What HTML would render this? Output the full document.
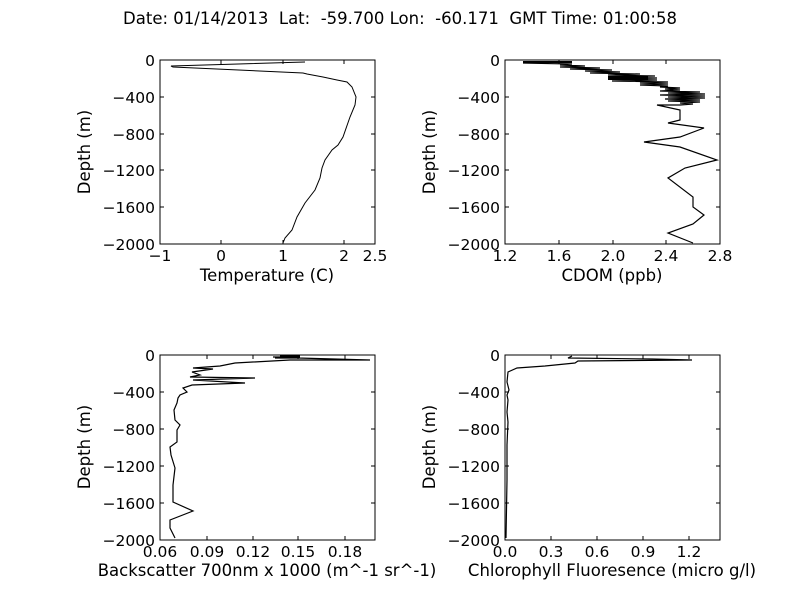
<!DOCTYPE html>
<html><head><meta charset="utf-8"><style>
html,body{margin:0;padding:0;background:#fff;}
svg{display:block;font-family:"DejaVu Sans","Liberation Sans",sans-serif;font-size:15.5px;}
.l{font-size:16.5px;}
</style></head><body>
<svg width="800" height="600" viewBox="0 0 800 600" xmlns="http://www.w3.org/2000/svg">
<rect width="800" height="600" fill="#fff"/>
<text x="400" y="24" text-anchor="middle" class="l" style="white-space:pre" xml:space="preserve">Date: 01/14/2013  Lat:  -59.700 Lon:  -60.171  GMT Time: 01:00:58</text>

<!-- Plot 1 -->
<g fill="none" stroke="#000" stroke-width="1">
<rect x="160" y="60" width="215" height="184"/>
<path d="M160,97h4M160,134h4M160,170h4M160,207h4M375,97h-4M375,134h-4M375,170h-4M375,207h-4M221,244v-4M283,244v-4M344,244v-4M221,60v4M283,60v4M344,60v4"/>
<polyline points="305,62 171,66 173,67 303,73 307,74 323,77 337,80 347,82 352,87 356,97 355,105 350,117 343,137 338,145 332,150 325,160 322,168 320,178 315,190 305,203 297,217 292,230 285,238 283,243"/>
</g>
<g text-anchor="end"><text x="155" y="66">0</text><text x="155" y="103">−400</text><text x="155" y="140">−800</text><text x="155" y="176">−1200</text><text x="155" y="213">−1600</text><text x="155" y="250">−2000</text></g>
<g text-anchor="middle"><text x="160" y="261">−1</text><text x="221" y="261">0</text><text x="283" y="261">1</text><text x="344" y="261">2</text><text x="375" y="261">2.5</text>
<text x="267" y="281" class="l">Temperature (C)</text></g>
<text transform="translate(90,152) rotate(-90)" text-anchor="middle" class="l">Depth (m)</text>

<!-- Plot 2 -->
<g fill="none" stroke="#000" stroke-width="1">
<rect x="505" y="60" width="215" height="184"/>
<path d="M505,97h4M505,134h4M505,170h4M505,207h4M720,97h-4M720,134h-4M720,170h-4M720,207h-4M559,244v-4M613,244v-4M666,244v-4M559,60v4M613,60v4M666,60v4"/>
<polyline stroke-width="1.2" points="523,62 572,62 523,63 572,64 560,65 585,66 560,67 600,68 570,69 612,70 585,71 620,72 590,73 640,74 608,75 655,76 608,77 657,78 610,79 657,80 612,81 668,82 640,83 668,84 640,85 668,86 660,87 680,88 665,89 680,90 660,91 700,92 668,93 705,94 660,95 705,96 668,97 705,98 665,99 700,100 668,101 700,102 680,103 693,104 680,105 657,105 680,110 680,120 668,123 704,128 680,137 644,142 680,147 717,160 685,168 668,178 693,197 693,207 704,215 693,224 668,233 693,243"/>
<rect x="523" y="61" width="49" height="2" fill="#000" stroke="none"/>
<rect x="608" y="76" width="40" height="4" fill="#000" stroke="none"/>
</g>
<g text-anchor="end"><text x="500" y="66">0</text><text x="500" y="103">−400</text><text x="500" y="140">−800</text><text x="500" y="176">−1200</text><text x="500" y="213">−1600</text><text x="500" y="250">−2000</text></g>
<g text-anchor="middle"><text x="505" y="261">1.2</text><text x="559" y="261">1.6</text><text x="613" y="261">2.0</text><text x="666" y="261">2.4</text><text x="720" y="261">2.8</text>
<text x="612" y="281" class="l">CDOM (ppb)</text></g>
<text transform="translate(435,152) rotate(-90)" text-anchor="middle" class="l">Depth (m)</text>

<!-- Plot 3 -->
<g fill="none" stroke="#000" stroke-width="1">
<rect x="160" y="355" width="215" height="185"/>
<path d="M160,392h4M160,429h4M160,466h4M160,503h4M375,392h-4M375,429h-4M375,466h-4M375,503h-4M207,540v-4M253,540v-4M298,540v-4M345,540v-4M207,355v4M253,355v4M298,355v4M345,355v4"/>
<polyline stroke-width="1.2" points="273,357 300,357 275,358 298,358 370,360 290,360 235,363 220,366 193,368 213,369 192,372 200,375 190,377 255,378 193,380 245,383 192,385 183,388 187,392 180,395 178,398 177,403 174,410 175,420 180,425 177,430 177,442 170,447 171,455 175,468 173,485 173,502 193,511 170,520 170,528 175,538"/>
<rect x="280" y="355.5" width="20" height="3" fill="#000" stroke="none"/>
</g>
<g text-anchor="end"><text x="155" y="361">0</text><text x="155" y="398">−400</text><text x="155" y="435">−800</text><text x="155" y="472">−1200</text><text x="155" y="509">−1600</text><text x="155" y="546">−2000</text></g>
<g text-anchor="middle"><text x="160" y="557">0.06</text><text x="207" y="557">0.09</text><text x="253" y="557">0.12</text><text x="298" y="557">0.15</text><text x="345" y="557">0.18</text>
<text x="267" y="576" class="l">Backscatter 700nm x 1000 (m^-1 sr^-1)</text></g>
<text transform="translate(90,447) rotate(-90)" text-anchor="middle" class="l">Depth (m)</text>

<!-- Plot 4 -->
<g fill="none" stroke="#000" stroke-width="1">
<rect x="505" y="355" width="215" height="185"/>
<path d="M505,392h4M505,429h4M505,466h4M505,503h4M720,392h-4M720,429h-4M720,466h-4M720,503h-4M551,540v-4M597,540v-4M643,540v-4M689,540v-4M551,355v4M597,355v4M643,355v4M689,355v4"/>
<polyline stroke-width="1.2" points="572,356 568,358 652,359 692,360 578,361 575,363 545,366 517,368 508,372 507,382 509,390 507,395 508,400 507,412 508,422 507,445 507,480 506,538"/>
</g>
<g text-anchor="end"><text x="500" y="361">0</text><text x="500" y="398">−400</text><text x="500" y="435">−800</text><text x="500" y="472">−1200</text><text x="500" y="509">−1600</text><text x="500" y="546">−2000</text></g>
<g text-anchor="middle"><text x="505" y="557">0.0</text><text x="551" y="557">0.3</text><text x="597" y="557">0.6</text><text x="643" y="557">0.9</text><text x="689" y="557">1.2</text>
<text x="612" y="576" class="l">Chlorophyll Fluoresence (micro g/l)</text></g>
<text transform="translate(435,447) rotate(-90)" text-anchor="middle" class="l">Depth (m)</text>
</svg>
</body></html>
